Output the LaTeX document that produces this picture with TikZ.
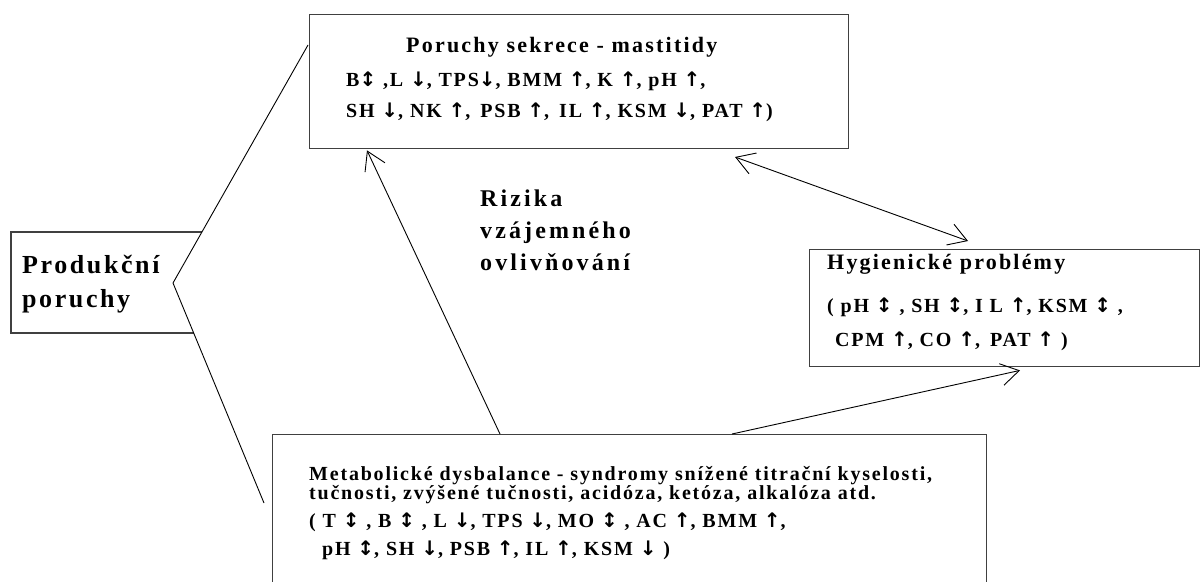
\documentclass[tikz,border=0pt]{standalone}
\usepackage{fontspec}
\setmainfont{Liberation Serif}
\newfontfamily\spnine[LetterSpace=9]{Liberation Serif}
\newfontfamily\spten[LetterSpace=10]{Liberation Serif}
\newfontfamily\spthirteen[LetterSpace=13]{Liberation Serif}
\newfontfamily\arrf{DejaVu Sans}
\newcommand\upa{{\arrf\bfseries\symbol{"2191}}}
\newcommand\dna{{\arrf\bfseries\symbol{"2193}}}
\newcommand\uda{{\arrf\bfseries\symbol{"2195}}}
\usetikzlibrary{arrows.meta,calc}
\begin{document}
\begin{tikzpicture}[x=1pt,y=-1pt,
  box/.style={draw=black!75, line width=1.4pt, inner sep=0pt, anchor=north west},
  conn/.style={draw=black, line width=0.9pt},
  arr/.style={conn, -{Straight Barb[length=18pt,width=22pt,line width=0.9pt]}},
  darr/.style={conn, {Straight Barb[length=18pt,width=22pt,line width=0.9pt]}-{Straight Barb[length=18pt,width=22pt,line width=0.9pt]}},
  txt/.style={anchor=base west, inner sep=0pt},
  ttl/.style={txt, font=\spten\bfseries\fontsize{22}{26}\selectfont},
  itm/.style={txt, font=\spnine\bfseries\fontsize{20}{23}\selectfont},
  met/.style={txt, font=\spnine\bfseries\fontsize{20}{24}\selectfont},
  big/.style={txt, font=\spten\bfseries\fontsize{26}{30}\selectfont},
  riz/.style={txt, font=\spthirteen\bfseries\fontsize{24}{28}\selectfont},
  ]
\clip (0,0) rectangle (1201,581);
\fill[white] (0,0) rectangle (1201,581);

% boxes
\node[box, minimum width=539pt, minimum height=134pt] (sek) at (309,14) {};
\node[box, minimum width=390pt, minimum height=117pt] (hyg) at (809,249) {};
\node[box, minimum width=714pt, minimum height=200pt] (meta) at (272,434) {};

% Produkcni poruchy box with notch
\draw[draw=black!75, line width=1.4pt] (202,232) -- (11,232) -- (11,333) -- (194,333);
\coordinate (v) at (173,283);
\coordinate (vt) at (308,45);
\coordinate (vb) at (264,503);
\draw[conn] (vt) -- (v) -- (vb);
\node[big] (prod1) at (22,273) {Produkční};
\node[big] (prod2) at (22,307) {poruchy};

% top box texts
\node[ttl] (sekt) at (406,52) {Poruchy sekrece - mastitidy};
\node[itm] (sek1) at (346,86) {B\uda\ ,L \dna, TPS\dna, BMM \upa, K \upa, pH \upa,};
\node[itm] (sek2) at (346,117) {SH \dna, NK \upa,\enspace PSB \upa,\enspace IL \upa, KSM \dna, PAT \upa)};

% hygiene texts
\node[ttl] (hygt) at (827,269) {Hygienické problémy};
\node[itm] (hyg1) at (827,312) {( pH \uda\ , SH \uda, I L \upa, KSM \uda\ ,};
\node[itm] (hyg2) at (835,346) {CPM \upa, CO \upa,\enspace PAT \upa\ )};

% metabolic texts
\node[met] (met1) at (309,480) {Metabolické dysbalance - syndromy snížené titrační kyselosti,};
\node[met] (met2) at (309,499) {tučnosti, zvýšené tučnosti, acidóza, ketóza, alkalóza atd.};
\node[met] (met3) at (309,527) {( T \uda\ , B \uda\ , L \dna, TPS \dna, MO \uda\ , AC \upa, BMM \upa,};
\node[met] (met4) at (322,555) {pH \uda, SH \dna, PSB \upa, IL \upa, KSM \dna\ )};

% Rizika
\node[riz] (riz1) at (480,206) {Rizika};
\node[riz] (riz2) at (480,238) {vzájemného};
\node[riz] (riz3) at (480,270) {ovlivňování};

% connectors
\coordinate (m1) at ($(meta.north west)+(228,0)$);
\coordinate (s1) at ($(sek.south west)+(58,1)$);
\draw[arr] (m1) -- (s1);
\coordinate (d1) at (735,157);
\coordinate (d2) at (968,241);
\draw[darr] (d1) -- (d2);
\coordinate (m2) at ($(meta.north west)+(460,0)$);
\coordinate (h1) at ($(hyg.south west)+(211,3)$);
\draw[arr] (m2) -- (h1);
\end{tikzpicture}
\end{document}
